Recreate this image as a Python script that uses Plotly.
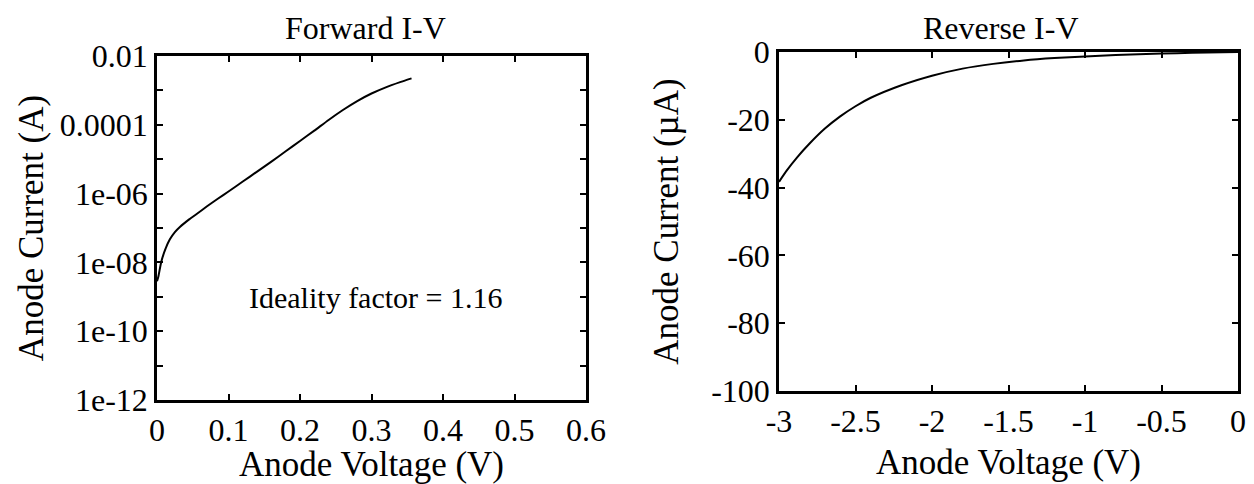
import plotly.graph_objects as go

# Forward I-V (current, A)
fwd_voltage = [0.0, 0.002, 0.006, 0.012, 0.018, 0.025, 0.032, 0.045, 0.055, 0.07, 0.085, 0.1,
               0.12, 0.14, 0.16, 0.18, 0.2, 0.22, 0.24, 0.26, 0.28, 0.3, 0.32, 0.34, 0.356]
fwd_current = [2.82e-9, 3.98e-9, 1.05e-8, 2.51e-8, 4.68e-8, 7.59e-8, 1.07e-7, 1.78e-7, 2.51e-7,
               4.27e-7, 7.08e-7, 1.15e-6, 2.24e-6, 4.37e-6, 8.51e-6, 1.70e-5, 3.39e-5, 6.76e-5,
               1.38e-4, 2.69e-4, 4.90e-4, 8.13e-4, 1.23e-3, 1.74e-3, 2.24e-3]

# Reverse I-V (current, uA)
rev_voltage = [-3.0, -2.95, -2.88, -2.8, -2.7, -2.6, -2.5, -2.4, -2.2, -2.0, -1.8, -1.6,
               -1.4, -1.2, -1.0, -0.8, -0.6, -0.4, -0.2, 0.0]
rev_current = [-38.3, -35.0, -31.0, -27.0, -22.6, -19.0, -16.0, -13.5, -9.8, -7.0, -4.9, -3.5,
               -2.5, -1.8, -1.3, -0.9, -0.6, -0.35, -0.15, 0.0]

fwd_xticks = [0, 0.1, 0.2, 0.3, 0.4, 0.5, 0.6]
fwd_yticks = [1e-12, 1e-11, 1e-10, 1e-9, 1e-8, 1e-7, 1e-6, 1e-5, 1e-4, 1e-3, 1e-2]
fwd_ylabels = ["1e-12", "", "1e-10", "", "1e-08", "", "1e-06", "", "0.0001", "", "0.01"]
rev_xticks = [-3, -2.5, -2, -1.5, -1, -0.5, 0]
rev_xlabels = ["-3", "-2.5", "-2", "-1.5", "-1", "-0.5", "0"]
rev_yticks = [-100, -80, -60, -40, -20, 0]

FONT = "Liberation Serif"
tickfont = dict(family=FONT, size=32, color="black")
titlefont = dict(family=FONT, size=35, color="black")
headfont = dict(family=FONT, size=32, color="black")

# page body has an 8px margin; size the figure so it fills the 1254x484 window
OFF = 8
W, H = 1254 - OFF, 484 - OFF


def fx(px):
    return (px - OFF) / W


def fy(py):
    return 1 - (py - OFF) / H


fig = go.Figure()
fig.add_trace(go.Scatter(x=fwd_voltage, y=fwd_current, mode="lines",
                         line=dict(color="black", width=2, shape="spline", smoothing=0.6),
                         xaxis="x", yaxis="y", showlegend=False))
fig.add_trace(go.Scatter(x=rev_voltage, y=rev_current, mode="lines",
                         line=dict(color="black", width=2, shape="spline", smoothing=0.6),
                         xaxis="x2", yaxis="y2", showlegend=False))

common = dict(showline=True, linecolor="black", linewidth=2.5, mirror="ticks",
              ticks="inside", ticklen=6, tickwidth=2, tickcolor="black",
              showgrid=False, zeroline=False, tickfont=tickfont, automargin=False)

fig.update_layout(
    width=W, height=H,
    margin=dict(l=0, r=0, t=0, b=0),
    paper_bgcolor="white", plot_bgcolor="white",
    xaxis=dict(domain=[fx(157), fx(586)], range=[0, 0.6], anchor="y",
               tickvals=fwd_xticks, ticktext=[str(v) for v in fwd_xticks],
               title=dict(text="Anode Voltage (V)", font=titlefont, standoff=12), **common),
    yaxis=dict(domain=[fy(400), fy(56)], type="log", range=[-12, -2], anchor="x",
               tickvals=fwd_yticks, ticktext=fwd_ylabels,
               title=dict(text="Anode Current (A)", font=titlefont, standoff=6), **common),
    xaxis2=dict(domain=[fx(779), fx(1238)], range=[-3, 0], anchor="y2",
                tickvals=rev_xticks, ticktext=rev_xlabels,
                title=dict(text="Anode Voltage (V)", font=titlefont, standoff=12), **common),
    yaxis2=dict(domain=[fy(391), fy(52)], range=[-100, 0], anchor="x2",
                tickvals=rev_yticks, ticktext=[str(v) for v in rev_yticks],
                title=dict(text="Anode Current (µA)", font=titlefont, standoff=22), **common),
    annotations=[
        dict(text="Forward I-V", x=fx(365), y=fy(8), xref="paper", yref="paper",
             xanchor="center", yanchor="top", showarrow=False, font=headfont),
        dict(text="Reverse I-V", x=fx(1000), y=fy(8), xref="paper", yref="paper",
             xanchor="center", yanchor="top", showarrow=False, font=headfont),
        dict(text="Ideality factor = 1.16", x=0.306, y=-9.03, xref="x", yref="y",
             xanchor="center", yanchor="middle", showarrow=False,
             font=dict(family=FONT, size=30, color="black")),
    ],
)

fig.write_html("out.html")
